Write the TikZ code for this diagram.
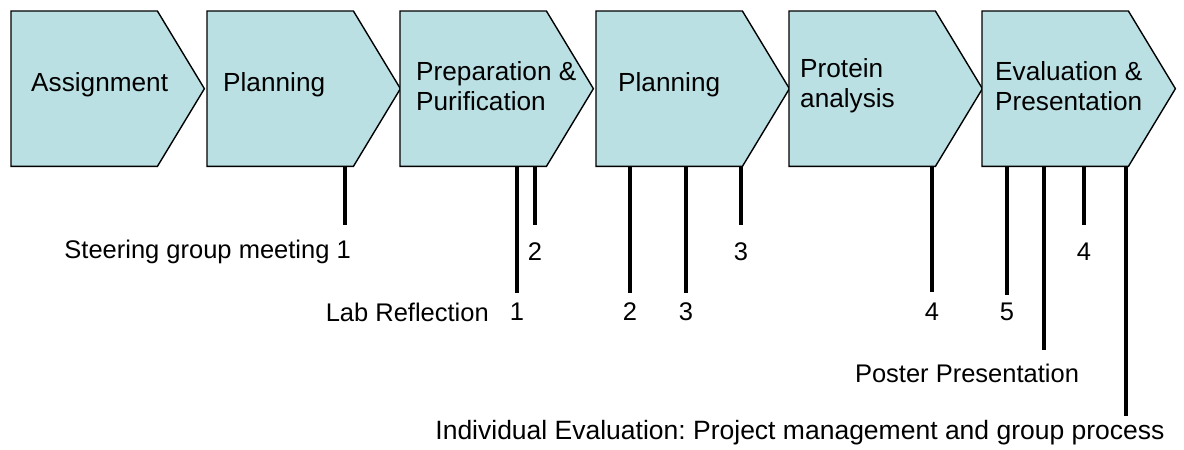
\documentclass[tikz,border=0pt]{standalone}
\usepackage{fontspec}
\setmainfont{Liberation Sans}
\usetikzlibrary{calc}
\frenchspacing
\definecolor{chevfill}{RGB}{187,224,227}
\tikzset{
  x=1pt,y=-1pt,
  body/.style={minimum width=146pt,minimum height=155pt,inner sep=0pt,anchor=north west},
  chev/.style={draw=black,line width=1.4pt,fill=chevfill,line join=miter},
  ctext/.style={anchor=west,align=left,inner sep=0pt,font=\fontsize{26.2}{30}\selectfont},
  tick/.style={line width=4.6pt},
  lab/.style={inner sep=0pt,font=\fontsize{25.5}{30}\selectfont}
}
\begin{document}
\begin{tikzpicture}
\useasboundingbox (0,0) rectangle (1184,450);
\fill[white] (0,0) rectangle (1184,450);
% chevron bodies
\foreach \n/\xx in {1/11,2/207,3/400,4/596,5/789,6/982}{
  \node[body] (c\n) at (\xx,11) {};
  \draw[chev] (c\n.north west) -- (c\n.north east) -- ($(c\n.east)+(47pt,0pt)$) -- (c\n.south east) -- (c\n.south west) -- cycle;
}
% chevron texts
\node[ctext] (t1) at (31,85) {Assignment};
\node[ctext] (t2) at (223,85) {Planning};
\node[ctext] (t3) at (416,86) {Preparation \&\\Purification};
\node[ctext] (t4) at (618,85) {Planning};
\node[ctext] (t5) at (800,86) {Protein\\analysis};
\node[ctext] (t6) at (995,86) {Evaluation \&\\Presentation};
% ticks
\draw[tick] ([xshift=138pt]c2.south west) -- ++(0,59) coordinate (e1);
\draw[tick] ([xshift=117pt]c3.south west) -- ++(0,127) coordinate (e2);
\draw[tick] ([xshift=135pt]c3.south west) -- ++(0,59) coordinate (e3);
\draw[tick] ([xshift=34pt]c4.south west) -- ++(0,127) coordinate (e4);
\draw[tick] ([xshift=90pt]c4.south west) -- ++(0,127) coordinate (e5);
\draw[tick] ([xshift=145pt]c4.south west) -- ++(0,59) coordinate (e6);
\draw[tick] ([xshift=143pt]c5.south west) -- ++(0,126) coordinate (e7);
\draw[tick] ([xshift=25pt]c6.south west) -- ++(0,129) coordinate (e8);
\draw[tick] ([xshift=62pt]c6.south west) -- ++(0,184) coordinate (e9);
\draw[tick] ([xshift=102pt]c6.south west) -- ++(0,59) coordinate (e10);
\draw[tick] ([xshift=144pt]c6.south west) -- ++(0,250) coordinate (e11);
% labels
\node[lab,anchor=east] (l1) at (351,252) {Steering group meeting 1};
\node[lab] (l3) at (535,252) {2};
\node[lab] (l6) at (741,252) {3};
\node[lab] (l10) at (1084,252) {4};
\node[lab,anchor=east] (lr) at (489,312) {Lab Reflection};
\node[lab] (l2) at (517,312) {1};
\node[lab] (l4) at (630,312) {2};
\node[lab] (l5) at (686,312) {3};
\node[lab] (l7) at (932,312) {4};
\node[lab] (l8) at (1007,312) {5};
\node[lab] (l9) at (967,373) {Poster Presentation};
\node[lab,font=\fontsize{26.5}{30}\selectfont] (l11) at (800,433) {Individual Evaluation: Project management and group process};
\end{tikzpicture}
\end{document}
